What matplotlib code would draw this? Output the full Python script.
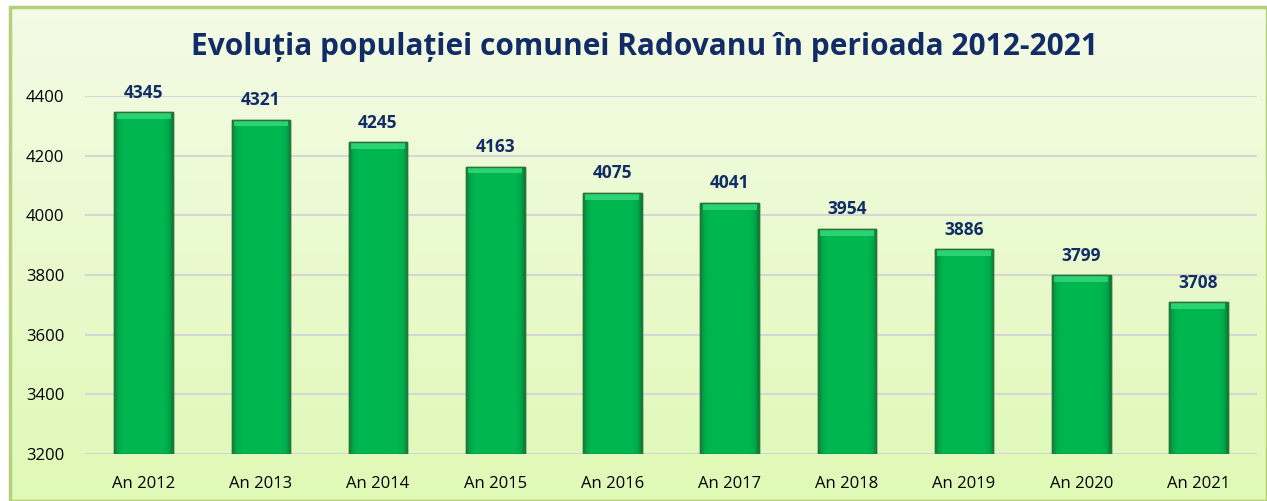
import matplotlib.pyplot as plt
import numpy as np
from matplotlib.patches import Rectangle

# data
years = ['An 2012', 'An 2013', 'An 2014', 'An 2015', 'An 2016',
         'An 2017', 'An 2018', 'An 2019', 'An 2020', 'An 2021']
population = [4345, 4321, 4245, 4163, 4075, 4041, 3954, 3886, 3799, 3708]
yticks = [3200, 3400, 3600, 3800, 4000, 4200, 4400]

W, H = 1267, 501
fig = plt.figure(figsize=(W / 100, H / 100), dpi=100)
fig.patch.set_facecolor('white')

# background panel with a soft vertical gradient
bg = fig.add_axes([10 / W, 0, 1 - 10 / W, 1 - 7 / H])
grad = np.linspace(0, 1, 256).reshape(-1, 1)
top = np.array([0xf4, 0xfb, 0xe6]) / 255
bot = np.array([0xdf, 0xf9, 0xb6]) / 255
img = top + (bot - top) * grad[:, :, None]
bg.imshow(img, aspect='auto', extent=[0, 1, 0, 1], origin='upper')
bg.set_xlim(0, 1)
bg.set_ylim(0, 1)
bg.axis('off')
bg.add_patch(Rectangle((0, 0), 1, 1, fill=False, edgecolor='#b5cf7a',
                       lw=2.5, transform=bg.transAxes, clip_on=False))

ax = fig.add_axes([85 / W, 47 / H, (1257 - 85) / W, (454 - 96) / H])
ax.patch.set_alpha(0)
x = np.arange(len(years))
bars = ax.bar(x, population, width=0.5, color='#00b050',
              edgecolor='#2f7a3a', linewidth=1.0, zorder=3)

# horizontal shading inside each bar (darker sides, lighter top)
shade = np.linspace(-1, 1, 64)
hband = 1 - 0.3 * np.abs(shade) ** 8
for b in bars:
    x0, w = b.get_x(), b.get_width()
    h = b.get_height()
    base = np.array([0x00, 0xb8, 0x50]) / 255
    cols = np.clip(base[None, :] * hband[:, None], 0, 1)
    im = ax.imshow(cols[None, :, :], aspect='auto',
                   extent=[x0, x0 + w, 3200, h], zorder=3.5)
    im.set_clip_path(b)
    ax.add_patch(Rectangle((x0 + w * 0.04, h - 22), w * 0.92, 22,
                           facecolor='#35dc7c', edgecolor='none',
                           zorder=3.6, alpha=0.8))
    ax.add_patch(Rectangle((x0, 3200), w, h - 3200, fill=False,
                           edgecolor='#2f6f3a', lw=1.0, zorder=3.7))

for xi, v in zip(x, population):
    ax.text(xi, v + 36, str(v), ha='center', va='bottom', fontsize=12.5,
            fontweight='bold', color='#112c66', family='Open Sans', zorder=5)

ax.set_xlim(-0.5, len(years) - 0.5)
ax.set_ylim(3200, 4400)
ax.set_yticks(yticks)
ax.set_xticks(x)
ax.set_xticklabels(years, fontsize=12, family='Open Sans')
ax.set_yticklabels([str(t) for t in yticks], fontsize=12, family='Open Sans')
ax.tick_params(length=0, pad=15, axis='y')
ax.tick_params(length=0, pad=16, axis='x')
ax.grid(axis='y', color='#d6d6d6', lw=1.5, zorder=0)
for s in ax.spines.values():
    s.set_visible(False)

fig.text(645 / W, 1 - 47 / H, 'Evoluția populației comunei Radovanu în perioada 2012-2021',
         ha='center', va='center', fontsize=21.5, fontweight='bold',
         color='#112c66', family='Open Sans')

fig.savefig('out.png', dpi=100, facecolor=fig.get_facecolor())
